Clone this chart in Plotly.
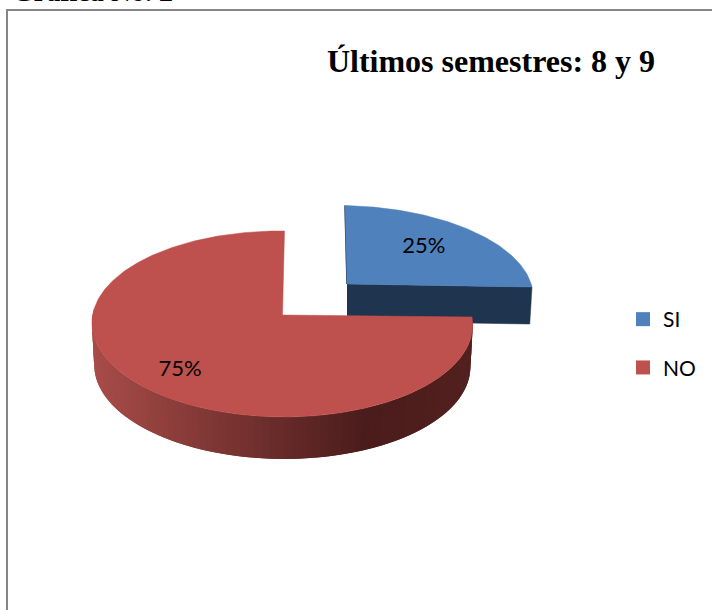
import math
import plotly.graph_objects as go

# Data
slice_names = ["SI", "NO"]
slice_values = [25, 75]
title_text = "Últimos semestres: 8 y 9"
caption_html = "<b>Gráfica</b> No<b>. 2</b>"

# Style
TOP = {"SI": "#4F81BD", "NO": "#BE504D"}
WALL_SI = "#1F344F"
GRAD = [(0.0, (168, 76, 72)), (0.72, (74, 28, 27)), (1.0, (82, 32, 31))]
K = 0.0966
GEOM = {
    "NO": dict(x0=282.5, y0=315, R=189.5, A=92.1, depth=42, shear=2, tilt=2, lab=0.72, ldy=7),
    "SI": dict(x0=347, y0=284, R=185, A=86, depth=37, shear=-2, tilt=3, lab=0.62, ldy=-2),
}


def project(g, angle_deg, r=1.0, drop=0.0):
    """Perspective projection of a disc point (angle clockwise from 12 o'clock)."""
    t = math.radians(angle_deg)
    u, v = r * math.sin(t), r * math.cos(t)
    w = 1 + K * v
    shrink = 1 - 0.012 * (drop / g["depth"])
    return (g["x0"] + shrink * g["R"] * u / w + g["shear"] * v,
            g["y0"] - g["A"] * v / w + g["tilt"] * u + drop)


def arc(g, a0, a1, drop=0.0, n=120):
    pts = [project(g, a0 + (a1 - a0) * i / n, drop=drop) for i in range(n + 1)]
    return [p[0] for p in pts], [p[1] for p in pts]


def grad_color(f):
    for (f0, c0), (f1, c1) in zip(GRAD, GRAD[1:]):
        if f <= f1:
            s = (f - f0) / (f1 - f0)
            return "rgb(%d,%d,%d)" % tuple(round(a + (b - a) * s) for a, b in zip(c0, c1))
    return "rgb(%d,%d,%d)" % GRAD[-1][1]


total = sum(slice_values)
spans = {}
start = 0.0
for name, val in zip(slice_names, slice_values):
    spans[name] = (start, start + val / total * 360)
    start = spans[name][1]

fig = go.Figure()


def poly(xs, ys, color, width=0.5):
    fig.add_trace(go.Scatter(x=xs, y=ys, mode="lines", fill="toself", fillcolor=color,
                             line=dict(color=color, width=width), hoverinfo="skip",
                             showlegend=False))


# SI slice
g = GEOM["SI"]
a0, a1 = spans["SI"]
ax, ay = g["x0"], g["y0"]
rx, ry = project(g, a1)
rx2, ry2 = project(g, a1, drop=g["depth"])
poly([ax, rx, rx2, ax], [ay, ry, ry2, ay + g["depth"]], WALL_SI)
tx, ty = project(g, a0)
fig.add_trace(go.Scatter(x=[tx, ax], y=[ty, ay], mode="lines", line=dict(color=WALL_SI, width=1.5),
                         hoverinfo="skip", showlegend=False))
xs, ys = arc(g, a0, a1)
poly([ax] + xs + [ax], [ay] + ys + [ay], TOP["SI"])

# NO slice: outer wall strips shaded by screen position; each strip overlaps the last
g = GEOM["NO"]
a0, a1 = spans["NO"]
vis0, vis1 = a0, 272.0
steps = 90
step = (vis1 - vis0) / steps
xl, xr = project(g, 270)[0], project(g, 90)[0]
for i in range(steps):
    b0 = vis0 + step * i
    b1 = min(vis1, b0 + 2 * step)
    x_top, y_top = arc(g, b0, b1, n=4)
    x_bot, y_bot = arc(g, b1, b0, drop=g["depth"], n=4)
    f = max(0.0, min(1.0, (project(g, b0 + step / 2)[0] - xl) / (xr - xl)))
    poly(x_top + x_bot, y_top + y_bot, grad_color(f), width=0)
xs, ys = arc(g, a0, a1, n=300)
ax, ay = g["x0"], g["y0"]
poly([ax] + xs + [ax], [ay] + ys + [ay], TOP["NO"])

# Percent labels
for name, val in zip(slice_names, slice_values):
    g = GEOM[name]
    mid = sum(spans[name]) / 2
    lx, ly = project(g, mid, r=g["lab"])
    fig.add_trace(go.Scatter(x=[lx], y=[ly + g["ldy"]], mode="text", text=[f"{val}%"],
                             textposition="middle center",
                             textfont=dict(family="Lato", size=22, color="#000000"),
                             hoverinfo="skip", showlegend=False))

# Legend entries
for name in slice_names:
    fig.add_trace(go.Scatter(x=[None], y=[None], mode="markers", name=name, legendgroup=name,
                             marker=dict(symbol="square", size=14, color=TOP[name])))

fig.update_layout(
    width=712, height=610,
    margin=dict(l=0, r=0, t=0, b=0),
    paper_bgcolor="white", plot_bgcolor="white",
    title=dict(text=f"<b>{title_text}</b>", x=491 / 712, xanchor="center",
               y=1 - 61 / 610, yanchor="middle",
               font=dict(family="Liberation Serif", size=32, color="#000000")),
    xaxis=dict(range=[0, 712], visible=False, fixedrange=True),
    yaxis=dict(range=[610, 0], visible=False, fixedrange=True),
    legend=dict(x=623 / 712, y=1 - 299 / 610, xanchor="left", yanchor="top", tracegroupgap=18,
                itemsizing="trace", bgcolor="rgba(0,0,0,0)", itemwidth=30,
                font=dict(family="Lato", size=21, color="#000000")),
    shapes=[dict(type="rect", xref="paper", yref="paper", x0=7 / 712, y0=-0.1, x1=1.02, y1=1 - 10 / 610,
                 line=dict(color="#868686", width=2))],
    annotations=[dict(text=caption_html, xref="paper", yref="paper", x=10 / 712, y=1 + 8 / 610,
                      xanchor="left", yanchor="middle", showarrow=False,
                      font=dict(family="Liberation Serif", size=28, color="#000000"))],
)
fig.write_html("out.html", config={"displayModeBar": False},
               post_script="document.body.style.margin='0';")
